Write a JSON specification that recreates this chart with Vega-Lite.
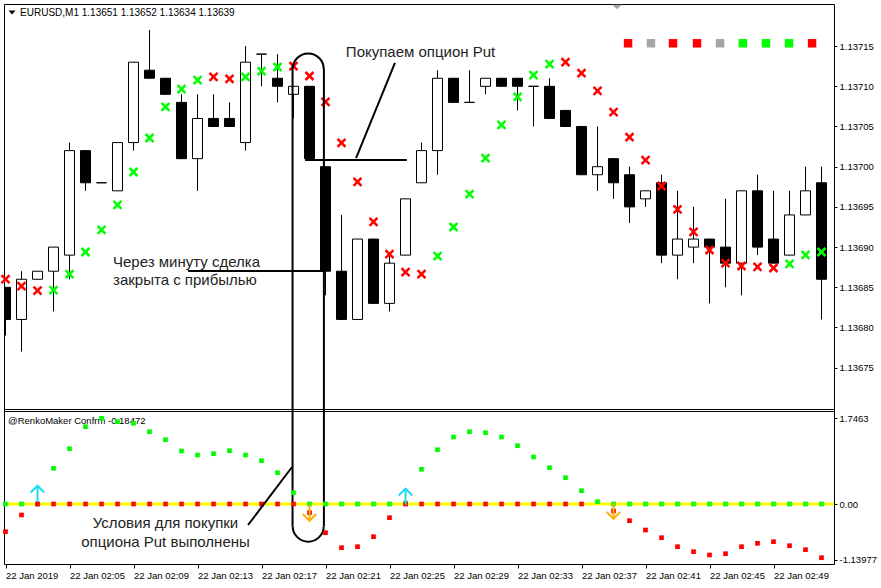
{
"$schema":"https://vega.github.io/schema/vega-lite/v6.json",
"width":830,"height":560,
"autosize":{"type":"none"},
"padding":{"left":4,"top":4,"right":47,"bottom":24},
"background":"#ffffff",
"config":{"view":{"stroke":"#000000","strokeWidth":1},"axis":{"grid":false,"domain":false,"labelFont":"Liberation Sans","labelFontSize":9.5,"labelColor":"#000000","tickColor":"#000000","tickWidth":1}},
"datasets":{
"candles":[
{"m":1,"o":1.13685,"h":1.13685,"l":1.13679,"c":1.13681,"dir":"bear"},
{"m":2,"o":1.13681,"h":1.13687,"l":1.13677,"c":1.13686,"dir":"bull"},
{"m":3,"o":1.13686,"h":1.13687,"l":1.13686,"c":1.13687,"dir":"bull"},
{"m":4,"o":1.13687,"h":1.13690,"l":1.13682,"c":1.13690,"dir":"bull"},
{"m":5,"o":1.13689,"h":1.13703,"l":1.13686,"c":1.13702,"dir":"bull"},
{"m":6,"o":1.13702,"h":1.13702,"l":1.13697,"c":1.13698,"dir":"bear"},
{"m":7,"o":1.13698,"h":1.13698,"l":1.13698,"c":1.13698,"dir":"bear"},
{"m":8,"o":1.13697,"h":1.13703,"l":1.13697,"c":1.13703,"dir":"bull"},
{"m":9,"o":1.13703,"h":1.13713,"l":1.13702,"c":1.13713,"dir":"bull"},
{"m":10,"o":1.13712,"h":1.13717,"l":1.13711,"c":1.13711,"dir":"bear"},
{"m":11,"o":1.13711,"h":1.13711,"l":1.13709,"c":1.13709,"dir":"bear"},
{"m":12,"o":1.13708,"h":1.13709,"l":1.13701,"c":1.13701,"dir":"bear"},
{"m":13,"o":1.13701,"h":1.13709,"l":1.13697,"c":1.13706,"dir":"bull"},
{"m":14,"o":1.13706,"h":1.13709,"l":1.13705,"c":1.13705,"dir":"bear"},
{"m":15,"o":1.13706,"h":1.13708,"l":1.13705,"c":1.13705,"dir":"bear"},
{"m":16,"o":1.13703,"h":1.13715,"l":1.13702,"c":1.13713,"dir":"bull"},
{"m":17,"o":1.13714,"h":1.13714,"l":1.13710,"c":1.13714,"dir":"bear"},
{"m":18,"o":1.13711,"h":1.13714,"l":1.13708,"c":1.13710,"dir":"bear"},
{"m":19,"o":1.13709,"h":1.13710,"l":1.13706,"c":1.13710,"dir":"bull"},
{"m":20,"o":1.13710,"h":1.13710,"l":1.13701,"c":1.13701,"dir":"bear"},
{"m":21,"o":1.13700,"h":1.13700,"l":1.13684,"c":1.13687,"dir":"bear"},
{"m":22,"o":1.13687,"h":1.13694,"l":1.13681,"c":1.13681,"dir":"bear"},
{"m":23,"o":1.13681,"h":1.13691,"l":1.13681,"c":1.13691,"dir":"bull"},
{"m":24,"o":1.13691,"h":1.13691,"l":1.13683,"c":1.13683,"dir":"bear"},
{"m":25,"o":1.13683,"h":1.13689,"l":1.13682,"c":1.13688,"dir":"bull"},
{"m":26,"o":1.13689,"h":1.13696,"l":1.13689,"c":1.13696,"dir":"bull"},
{"m":27,"o":1.13698,"h":1.13703,"l":1.13698,"c":1.13702,"dir":"bull"},
{"m":28,"o":1.13702,"h":1.13712,"l":1.13699,"c":1.13711,"dir":"bull"},
{"m":29,"o":1.13711,"h":1.13711,"l":1.13708,"c":1.13708,"dir":"bear"},
{"m":30,"o":1.13708,"h":1.13712,"l":1.13708,"c":1.13708,"dir":"bear"},
{"m":31,"o":1.13710,"h":1.13711,"l":1.13709,"c":1.13711,"dir":"bull"},
{"m":32,"o":1.13711,"h":1.13711,"l":1.13710,"c":1.13710,"dir":"bear"},
{"m":33,"o":1.13711,"h":1.13711,"l":1.13707,"c":1.13710,"dir":"bear"},
{"m":34,"o":1.13710,"h":1.13710,"l":1.13705,"c":1.13710,"dir":"bear"},
{"m":35,"o":1.13710,"h":1.13711,"l":1.13706,"c":1.13706,"dir":"bear"},
{"m":36,"o":1.13707,"h":1.13707,"l":1.13705,"c":1.13705,"dir":"bear"},
{"m":37,"o":1.13705,"h":1.13705,"l":1.13699,"c":1.13699,"dir":"bear"},
{"m":38,"o":1.13699,"h":1.13705,"l":1.13697,"c":1.13700,"dir":"bull"},
{"m":39,"o":1.13701,"h":1.13701,"l":1.13696,"c":1.13698,"dir":"bear"},
{"m":40,"o":1.13699,"h":1.13700,"l":1.13693,"c":1.13695,"dir":"bear"},
{"m":41,"o":1.13696,"h":1.13697,"l":1.13695,"c":1.13697,"dir":"bull"},
{"m":42,"o":1.13698,"h":1.13699,"l":1.13688,"c":1.13689,"dir":"bear"},
{"m":43,"o":1.13689,"h":1.13697,"l":1.13686,"c":1.13691,"dir":"bull"},
{"m":44,"o":1.13690,"h":1.13695,"l":1.13688,"c":1.13691,"dir":"bull"},
{"m":45,"o":1.13691,"h":1.13691,"l":1.13683,"c":1.13690,"dir":"bear"},
{"m":46,"o":1.13690,"h":1.13696,"l":1.13685,"c":1.13688,"dir":"bear"},
{"m":47,"o":1.13688,"h":1.13697,"l":1.13684,"c":1.13697,"dir":"bull"},
{"m":48,"o":1.13697,"h":1.13699,"l":1.13689,"c":1.13690,"dir":"bear"},
{"m":49,"o":1.13691,"h":1.13697,"l":1.13688,"c":1.13688,"dir":"bear"},
{"m":50,"o":1.13689,"h":1.13697,"l":1.13689,"c":1.13694,"dir":"bull"},
{"m":51,"o":1.13694,"h":1.13700,"l":1.13694,"c":1.13697,"dir":"bull"},
{"m":52,"o":1.13698,"h":1.13700,"l":1.13681,"c":1.13686,"dir":"bear"}
],
"xmarks":[
{"m":1,"p":1.1368603,"side":"sell"},{"m":2,"p":1.1368516,"side":"sell"},{"m":3,"p":1.1368458,"side":"sell"},
{"m":4,"p":1.1368466,"side":"buy"},{"m":5,"p":1.1368665,"side":"buy"},{"m":6,"p":1.1368939,"side":"buy"},
{"m":7,"p":1.1369213,"side":"buy"},{"m":8,"p":1.1369524,"side":"buy"},{"m":9,"p":1.1369934,"side":"buy"},
{"m":10,"p":1.1370357,"side":"buy"},{"m":11,"p":1.1370743,"side":"buy"},{"m":12,"p":1.1370966,"side":"buy"},
{"m":13,"p":1.1371078,"side":"buy"},{"m":14,"p":1.1371116,"side":"sell"},{"m":15,"p":1.1371091,"side":"sell"},
{"m":16,"p":1.1371116,"side":"buy"},{"m":17,"p":1.137119,"side":"buy"},{"m":18,"p":1.137124,"side":"buy"},
{"m":19,"p":1.1371252,"side":"sell"},{"m":20,"p":1.1371128,"side":"sell"},{"m":21,"p":1.1370805,"side":"sell"},
{"m":22,"p":1.1370295,"side":"sell"},{"m":23,"p":1.136981,"side":"sell"},{"m":24,"p":1.1369314,"side":"sell"},
{"m":25,"p":1.1368914,"side":"sell"},{"m":26,"p":1.136869,"side":"sell"},{"m":27,"p":1.1368665,"side":"sell"},
{"m":28,"p":1.1368889,"side":"buy"},{"m":29,"p":1.136925,"side":"buy"},{"m":30,"p":1.136966,"side":"buy"},
{"m":31,"p":1.1370108,"side":"buy"},{"m":32,"p":1.1370519,"side":"buy"},{"m":33,"p":1.1370867,"side":"buy"},
{"m":34,"p":1.137114,"side":"buy"},{"m":35,"p":1.1371277,"side":"buy"},{"m":36,"p":1.1371302,"side":"sell"},
{"m":37,"p":1.1371165,"side":"sell"},{"m":38,"p":1.1370942,"side":"sell"},{"m":39,"p":1.137068,"side":"sell"},
{"m":40,"p":1.1370369,"side":"sell"},{"m":41,"p":1.1370083,"side":"sell"},{"m":42,"p":1.136976,"side":"sell"},
{"m":43,"p":1.1369468,"side":"sell"},{"m":44,"p":1.1369188,"side":"sell"},{"m":45,"p":1.1368964,"side":"sell"},
{"m":46,"p":1.1368802,"side":"sell"},{"m":47,"p":1.1368765,"side":"sell"},{"m":48,"p":1.1368753,"side":"sell"},
{"m":49,"p":1.136874,"side":"sell"},{"m":50,"p":1.136879,"side":"buy"},{"m":51,"p":1.1368902,"side":"buy"},
{"m":52,"p":1.1368939,"side":"buy"}
],
"osc":[
{"m":1,"v":0,"s":"buy"},{"m":2,"v":0,"s":"buy"},{"m":3,"v":0,"s":"buy"},{"m":4,"v":0.727,"s":"buy"},
{"m":5,"v":1.127,"s":"buy"},{"m":6,"v":1.575,"s":"buy"},{"m":7,"v":1.746,"s":"buy"},{"m":8,"v":1.677,"s":"buy"},
{"m":9,"v":1.644,"s":"buy"},{"m":10,"v":1.473,"s":"buy"},{"m":11,"v":1.31,"s":"buy"},{"m":12,"v":1.08,"s":"buy"},
{"m":13,"v":0.998,"s":"buy"},{"m":14,"v":1.025,"s":"buy"},{"m":15,"v":1.086,"s":"buy"},{"m":16,"v":0.998,"s":"buy"},
{"m":17,"v":0.882,"s":"buy"},{"m":18,"v":0.638,"s":"buy"},{"m":19,"v":0.23,"s":"buy"},{"m":20,"v":0,"s":"buy"},
{"m":21,"v":0,"s":"buy"},{"m":22,"v":0,"s":"buy"},{"m":23,"v":0,"s":"buy"},{"m":24,"v":0,"s":"buy"},
{"m":25,"v":0,"s":"buy"},{"m":26,"v":0.02,"s":"buy"},{"m":27,"v":0.707,"s":"buy"},{"m":28,"v":1.106,"s":"buy"},
{"m":29,"v":1.365,"s":"buy"},{"m":30,"v":1.473,"s":"buy"},{"m":31,"v":1.453,"s":"buy"},{"m":32,"v":1.365,"s":"buy"},
{"m":33,"v":1.188,"s":"buy"},{"m":34,"v":0.958,"s":"buy"},{"m":35,"v":0.74,"s":"buy"},{"m":36,"v":0.536,"s":"buy"},
{"m":37,"v":0.271,"s":"buy"},{"m":38,"v":0.047,"s":"buy"},{"m":39,"v":0,"s":"buy"},{"m":40,"v":0,"s":"buy"},
{"m":41,"v":0,"s":"buy"},{"m":42,"v":0,"s":"buy"},{"m":43,"v":0,"s":"buy"},{"m":44,"v":0,"s":"buy"},
{"m":45,"v":0,"s":"buy"},{"m":46,"v":0,"s":"buy"},{"m":47,"v":0,"s":"buy"},{"m":48,"v":0,"s":"buy"},
{"m":49,"v":0,"s":"buy"},{"m":50,"v":0,"s":"buy"},{"m":51,"v":0,"s":"buy"},{"m":52,"v":0,"s":"buy"},
{"m":1,"v":-0.564,"s":"sell"},{"m":2,"v":-0.224,"s":"sell"},{"m":3,"v":0,"s":"sell"},{"m":4,"v":0,"s":"sell"},
{"m":5,"v":0,"s":"sell"},{"m":6,"v":0,"s":"sell"},{"m":7,"v":0,"s":"sell"},{"m":8,"v":0,"s":"sell"},
{"m":9,"v":0,"s":"sell"},{"m":10,"v":0,"s":"sell"},{"m":11,"v":0,"s":"sell"},{"m":12,"v":0,"s":"sell"},
{"m":13,"v":0,"s":"sell"},{"m":14,"v":0,"s":"sell"},{"m":15,"v":0,"s":"sell"},{"m":16,"v":0,"s":"sell"},
{"m":17,"v":0,"s":"sell"},{"m":18,"v":0,"s":"sell"},{"m":19,"v":0,"s":"sell"},{"m":20,"v":-0.177,"s":"sell"},
{"m":21,"v":-0.585,"s":"sell"},{"m":22,"v":-0.89,"s":"sell"},{"m":23,"v":-0.87,"s":"sell"},{"m":24,"v":-0.666,"s":"sell"},
{"m":25,"v":-0.279,"s":"sell"},{"m":26,"v":0,"s":"sell"},{"m":27,"v":0,"s":"sell"},{"m":28,"v":0,"s":"sell"},
{"m":29,"v":0,"s":"sell"},{"m":30,"v":0,"s":"sell"},{"m":31,"v":0,"s":"sell"},{"m":32,"v":0,"s":"sell"},
{"m":33,"v":0,"s":"sell"},{"m":34,"v":0,"s":"sell"},{"m":35,"v":0,"s":"sell"},{"m":36,"v":0,"s":"sell"},
{"m":37,"v":0,"s":"sell"},{"m":39,"v":-0.143,"s":"sell"},{"m":40,"v":-0.34,"s":"sell"},{"m":41,"v":-0.53,"s":"sell"},
{"m":42,"v":-0.687,"s":"sell"},{"m":43,"v":-0.87,"s":"sell"},{"m":44,"v":-0.972,"s":"sell"},{"m":45,"v":-1.039,"s":"sell"},
{"m":46,"v":-1.013,"s":"sell"},{"m":47,"v":-0.87,"s":"sell"},{"m":48,"v":-0.801,"s":"sell"},{"m":49,"v":-0.768,"s":"sell"},
{"m":50,"v":-0.85,"s":"sell"},{"m":51,"v":-0.931,"s":"sell"},{"m":52,"v":-1.094,"s":"sell"}
],
"arrows":[
{"m":3,"v":0.21,"dir":"up"},{"m":26,"v":0.15,"dir":"up"},{"m":20,"v":-0.18,"dir":"down"},{"m":39,"v":-0.14,"dir":"down"}
],
"signals":[
{"m":39.91,"p":1.1371535,"sig":"sell"},{"m":41.34,"p":1.1371535,"sig":"flat"},{"m":42.72,"p":1.1371535,"sig":"sell"},
{"m":44.22,"p":1.1371535,"sig":"sell"},{"m":45.66,"p":1.1371535,"sig":"flat"},{"m":47.09,"p":1.1371535,"sig":"buy"},
{"m":48.53,"p":1.1371535,"sig":"buy"},{"m":49.97,"p":1.1371535,"sig":"buy"},{"m":51.41,"p":1.1371535,"sig":"sell"}
],
"linesTop":[
{"m":25.34,"m2":22.91,"p":1.137129,"p2":1.1370108},
{"m":19.72,"m2":26.09,"p":1.1370083,"p2":1.1370083},
{"m":12.41,"m2":20.97,"p":1.1368703,"p2":1.1368703},
{"m":18.94,"m2":18.94,"p":1.1371215,"p2":1.1365529},
{"m":20.9,"m2":20.9,"p":1.1371215,"p2":1.1365529}
],
"arcs":[{"m":19.92,"p":1.1371215,"k":"top"},{"m":19.92,"p":1.1365529,"k":"bottom"}]
},
"encoding":{"x":{"field":"m","type":"quantitative","title":null,"scale":{"domain":[0.90625,52.78125],"nice":false,"zero":false,"padding":0},
 "axis":{"orient":"bottom","title":null,"values":[1,5,9,13,17,21,25,29,33,37,41,45,49],
 "labelExpr":"datum.value == 1 ? '22 Jan 2019' : '22 Jan 02:' + (datum.value < 10 ? '0' : '') + datum.value",
 "labelAlign":"left","labelBaseline":"top","tickSize":4,"labelPadding":2,"domain":false,"grid":false,"labelOverlap":false,"labelFlush":false,"labelBound":false}}},
"layer":[
{"layer":[
 {"data":{"name":"candles"},"mark":{"type":"rule","color":"#000000","strokeWidth":1,"clip":true},
  "encoding":{"y":{"field":"h","type":"quantitative","title":null,"scale":{"domain":[1.13669863,1.13720236],"range":[405,0],"nice":false,"zero":false,"padding":0},
   "axis":{"orient":"right","title":null,"values":[1.13675,1.1368,1.13685,1.1369,1.13695,1.137,1.13705,1.1371,1.13715],"format":".5f","tickSize":3,"labelPadding":2,"labelBaseline":"middle","labelAlign":"left"}},
   "y2":{"field":"l"}}},
 {"data":{"name":"candles"},"mark":{"type":"bar","size":10,"stroke":"#000000","strokeWidth":1,"clip":true},
  "encoding":{"y":{"field":"o","type":"quantitative","title":null,"scale":{"domain":[1.13669863,1.13720236],"range":[405,0],"nice":false,"zero":false,"padding":0},
   "axis":{"orient":"right","title":null,"values":[1.13675,1.1368,1.13685,1.1369,1.13695,1.137,1.13705,1.1371,1.13715],"format":".5f","tickSize":3,"labelPadding":2,"labelBaseline":"middle","labelAlign":"left"}},
   "y2":{"field":"c"},
   "fill":{"field":"dir","type":"nominal","legend":null,"scale":{"domain":["bull","bear","buy","sell","flat"],"range":["#FFFFFF","#000000","#00FF00","#FF0000","#A5A5A5"]}}}},
 {"data":{"values":[{"m":0.90625,"m2":52.78125,"p":1.13669801}]},"mark":{"type":"rule","color":"#000000","strokeWidth":1},
  "encoding":{"x2":{"field":"m2"},"y":{"field":"p","type":"quantitative","title":null,"scale":{"domain":[1.13669863,1.13720236],"range":[405,0],"nice":false,"zero":false,"padding":0},
   "axis":{"orient":"right","title":null,"values":[1.13675,1.1368,1.13685,1.1369,1.13695,1.137,1.13705,1.1371,1.13715],"format":".5f","tickSize":3,"labelPadding":2,"labelBaseline":"middle","labelAlign":"left"}}}},
 {"data":{"name":"xmarks"},"mark":{"type":"point","shape":"M-1,-1L1,1M1,-1L-1,1","size":64,"strokeWidth":2.5,"filled":false,"opacity":1},
  "encoding":{"y":{"field":"p","type":"quantitative","title":null,"scale":{"domain":[1.13669863,1.13720236],"range":[405,0],"nice":false,"zero":false,"padding":0},
   "axis":{"orient":"right","title":null,"values":[1.13675,1.1368,1.13685,1.1369,1.13695,1.137,1.13705,1.1371,1.13715],"format":".5f","tickSize":3,"labelPadding":2,"labelBaseline":"middle","labelAlign":"left"}},
   "stroke":{"field":"side","type":"nominal","legend":null,"scale":{"domain":["buy","sell","up","down"],"range":["#00FF00","#FF0000","#19DDF2","#FFB000"]}}}},
 {"data":{"name":"signals"},"mark":{"type":"square","size":72,"opacity":1},
  "encoding":{"y":{"field":"p","type":"quantitative","title":null,"scale":{"domain":[1.13669863,1.13720236],"range":[405,0],"nice":false,"zero":false,"padding":0},
   "axis":{"orient":"right","title":null,"values":[1.13675,1.1368,1.13685,1.1369,1.13695,1.137,1.13705,1.1371,1.13715],"format":".5f","tickSize":3,"labelPadding":2,"labelBaseline":"middle","labelAlign":"left"}},
   "fill":{"field":"sig","type":"nominal","legend":null,"scale":{"domain":["bull","bear","buy","sell","flat"],"range":["#FFFFFF","#000000","#00FF00","#FF0000","#A5A5A5"]}}}},
 {"data":{"values":[{"m":1.41,"p":1.1371918}]},"mark":{"type":"point","shape":"M-1,-0.55L1,-0.55L0,0.55Z","size":49,"filled":true,"color":"#000000","opacity":1},
  "encoding":{"y":{"field":"p","type":"quantitative","title":null,"scale":{"domain":[1.13669863,1.13720236],"range":[405,0],"nice":false,"zero":false,"padding":0},
   "axis":{"orient":"right","title":null,"values":[1.13675,1.1368,1.13685,1.1369,1.13695,1.137,1.13705,1.1371,1.13715],"format":".5f","tickSize":3,"labelPadding":2,"labelBaseline":"middle","labelAlign":"left"}}}},
 {"data":{"values":[{"m":39.22,"p":1.1371986}]},"mark":{"type":"point","shape":"M-1,-0.45L1,-0.45L0,0.45Z","size":100,"filled":true,"color":"#A8A8A8","opacity":1},
  "encoding":{"y":{"field":"p","type":"quantitative","title":null,"scale":{"domain":[1.13669863,1.13720236],"range":[405,0],"nice":false,"zero":false,"padding":0},
   "axis":{"orient":"right","title":null,"values":[1.13675,1.1368,1.13685,1.1369,1.13695,1.137,1.13705,1.1371,1.13715],"format":".5f","tickSize":3,"labelPadding":2,"labelBaseline":"middle","labelAlign":"left"}}}},
 {"data":{"values":[{"m":1.91,"p":1.1371912,"t":"EURUSD,M1  1.13651 1.13652 1.13634 1.13639"}]},"mark":{"type":"text","align":"left","baseline":"middle","font":"Liberation Sans","fontSize":10,"color":"#000000"},
  "encoding":{"y":{"field":"p","type":"quantitative","title":null,"scale":{"domain":[1.13669863,1.13720236],"range":[405,0],"nice":false,"zero":false,"padding":0},
   "axis":{"orient":"right","title":null,"values":[1.13675,1.1368,1.13685,1.1369,1.13695,1.137,1.13705,1.1371,1.13715],"format":".5f","tickSize":3,"labelPadding":2,"labelBaseline":"middle","labelAlign":"left"}},"text":{"field":"t"}}},
 {"data":{"name":"linesTop"},"mark":{"type":"rule","color":"#000000","strokeWidth":2},
  "encoding":{"x2":{"field":"m2"},"y":{"field":"p","type":"quantitative","title":null,"scale":{"domain":[1.13669863,1.13720236],"range":[405,0],"nice":false,"zero":false,"padding":0},
   "axis":{"orient":"right","title":null,"values":[1.13675,1.1368,1.13685,1.1369,1.13695,1.137,1.13705,1.1371,1.13715],"format":".5f","tickSize":3,"labelPadding":2,"labelBaseline":"middle","labelAlign":"left"}},"y2":{"field":"p2"}}},
 {"data":{"name":"arcs"},"mark":{"type":"point","size":961,"strokeWidth":2,"filled":false,"color":"#000000","opacity":1},
  "encoding":{"y":{"field":"p","type":"quantitative","title":null,"scale":{"domain":[1.13669863,1.13720236],"range":[405,0],"nice":false,"zero":false,"padding":0},
   "axis":{"orient":"right","title":null,"values":[1.13675,1.1368,1.13685,1.1369,1.13695,1.137,1.13705,1.1371,1.13715],"format":".5f","tickSize":3,"labelPadding":2,"labelBaseline":"middle","labelAlign":"left"}},
   "shape":{"field":"k","type":"nominal","legend":null,"scale":{"domain":["top","bottom","up","down"],"range":["M-1,0A1,1 0 0 1 1,0","M-1,0A1,1 0 0 0 1,0","M0,1L0,-1M-0.85,-0.15L0,-1L0.85,-0.15","M0,-1L0,1M-0.85,0.15L0,1L0.85,0.15"]}}}},
 {"data":{"values":[{"m":26.94,"p":1.1371427,"t":"Покупаем опцион Put"}]},"mark":{"type":"text","align":"center","baseline":"middle","font":"Liberation Sans","fontSize":15,"color":"#222222"},
  "encoding":{"y":{"field":"p","type":"quantitative","title":null,"scale":{"domain":[1.13669863,1.13720236],"range":[405,0],"nice":false,"zero":false,"padding":0},
   "axis":{"orient":"right","title":null,"values":[1.13675,1.1368,1.13685,1.1369,1.13695,1.137,1.13705,1.1371,1.13715],"format":".5f","tickSize":3,"labelPadding":2,"labelBaseline":"middle","labelAlign":"left"}},"text":{"field":"t"}}},
 {"data":{"values":[{"m":7.72,"p":1.1368815,"t":"Через минуту сделка"},{"m":7.72,"p":1.1368591,"t":"закрыта с прибылью"}]},"mark":{"type":"text","align":"left","baseline":"middle","font":"Liberation Sans","fontSize":15,"color":"#222222"},
  "encoding":{"y":{"field":"p","type":"quantitative","title":null,"scale":{"domain":[1.13669863,1.13720236],"range":[405,0],"nice":false,"zero":false,"padding":0},
   "axis":{"orient":"right","title":null,"values":[1.13675,1.1368,1.13685,1.1369,1.13695,1.137,1.13705,1.1371,1.13715],"format":".5f","tickSize":3,"labelPadding":2,"labelBaseline":"middle","labelAlign":"left"}},"text":{"field":"t"}}}
]},
{"layer":[
 {"data":{"values":[{"m":0.90625,"m2":52.78125,"v":1.88468}]},"mark":{"type":"rule","color":"#000000","strokeWidth":1},
  "encoding":{"x2":{"field":"m2"},"y":{"field":"v","type":"quantitative","title":null,"scale":{"domain":[-1.22249,1.89487],"range":[560,407],"nice":false,"zero":false,"padding":0},
   "axis":{"orient":"right","title":null,"values":[-1.13977,0,1.7463],"labelExpr":"datum.value > 1 ? '1.7463' : (datum.value < -1 ? '-1.13977' : '0.00')","tickSize":3,"labelPadding":2,"labelBaseline":"middle","labelAlign":"left"}}}},
 {"data":{"values":[{"m":0.90625,"m2":52.78125,"v":0}]},"mark":{"type":"rule","color":"#FFFF00","strokeWidth":3},
  "encoding":{"x2":{"field":"m2"},"y":{"field":"v","type":"quantitative","title":null,"scale":{"domain":[-1.22249,1.89487],"range":[560,407],"nice":false,"zero":false,"padding":0},
   "axis":{"orient":"right","title":null,"values":[-1.13977,0,1.7463],"labelExpr":"datum.value > 1 ? '1.7463' : (datum.value < -1 ? '-1.13977' : '0.00')","tickSize":3,"labelPadding":2,"labelBaseline":"middle","labelAlign":"left"}}}},
 {"data":{"values":[{"m":1.16,"v":1.697,"t":"@RenkoMaker Confrm -0.18472"}]},"mark":{"type":"text","align":"left","baseline":"middle","font":"Liberation Sans","fontSize":9.5,"color":"#000000"},
  "encoding":{"y":{"field":"v","type":"quantitative","title":null,"scale":{"domain":[-1.22249,1.89487],"range":[560,407],"nice":false,"zero":false,"padding":0},
   "axis":{"orient":"right","title":null,"values":[-1.13977,0,1.7463],"labelExpr":"datum.value > 1 ? '1.7463' : (datum.value < -1 ? '-1.13977' : '0.00')","tickSize":3,"labelPadding":2,"labelBaseline":"middle","labelAlign":"left"}},"text":{"field":"t"}}},
 {"data":{"name":"osc"},"mark":{"type":"square","size":22,"opacity":1},
  "encoding":{"y":{"field":"v","type":"quantitative","title":null,"scale":{"domain":[-1.22249,1.89487],"range":[560,407],"nice":false,"zero":false,"padding":0},
   "axis":{"orient":"right","title":null,"values":[-1.13977,0,1.7463],"labelExpr":"datum.value > 1 ? '1.7463' : (datum.value < -1 ? '-1.13977' : '0.00')","tickSize":3,"labelPadding":2,"labelBaseline":"middle","labelAlign":"left"}},
   "fill":{"field":"s","type":"nominal","legend":null,"scale":{"domain":["bull","bear","buy","sell","flat"],"range":["#FFFFFF","#000000","#00FF00","#FF0000","#A5A5A5"]}}}},
 {"data":{"name":"arrows"},"mark":{"type":"point","size":256,"strokeWidth":2,"filled":false,"opacity":1},
  "encoding":{"y":{"field":"v","type":"quantitative","title":null,"scale":{"domain":[-1.22249,1.89487],"range":[560,407],"nice":false,"zero":false,"padding":0},
   "axis":{"orient":"right","title":null,"values":[-1.13977,0,1.7463],"labelExpr":"datum.value > 1 ? '1.7463' : (datum.value < -1 ? '-1.13977' : '0.00')","tickSize":3,"labelPadding":2,"labelBaseline":"middle","labelAlign":"left"}},
   "shape":{"field":"dir","type":"nominal","legend":null,"scale":{"domain":["top","bottom","up","down"],"range":["M-1,0A1,1 0 0 1 1,0","M-1,0A1,1 0 0 0 1,0","M0,1L0,-1M-0.85,-0.15L0,-1L0.85,-0.15","M0,-1L0,1M-0.85,0.15L0,1L0.85,0.15"]}},
   "stroke":{"field":"dir","type":"nominal","legend":null,"scale":{"domain":["buy","sell","up","down"],"range":["#00FF00","#FF0000","#19DDF2","#FFB000"]}}}},
 {"data":{"values":[{"m":16.16,"m2":18.91,"v":-0.428,"v2":0.754}]},"mark":{"type":"rule","color":"#000000","strokeWidth":2},
  "encoding":{"x2":{"field":"m2"},"y":{"field":"v","type":"quantitative","title":null,"scale":{"domain":[-1.22249,1.89487],"range":[560,407],"nice":false,"zero":false,"padding":0},
   "axis":{"orient":"right","title":null,"values":[-1.13977,0,1.7463],"labelExpr":"datum.value > 1 ? '1.7463' : (datum.value < -1 ? '-1.13977' : '0.00')","tickSize":3,"labelPadding":2,"labelBaseline":"middle","labelAlign":"left"}},"y2":{"field":"v2"}}},
 {"data":{"values":[{"m":11.0,"v":-0.387,"t":"Условия для покупки"},{"m":11.0,"v":-0.774,"t":"опциона Put выполнены"}]},"mark":{"type":"text","align":"center","baseline":"middle","font":"Liberation Sans","fontSize":15,"color":"#222222"},
  "encoding":{"y":{"field":"v","type":"quantitative","title":null,"scale":{"domain":[-1.22249,1.89487],"range":[560,407],"nice":false,"zero":false,"padding":0},
   "axis":{"orient":"right","title":null,"values":[-1.13977,0,1.7463],"labelExpr":"datum.value > 1 ? '1.7463' : (datum.value < -1 ? '-1.13977' : '0.00')","tickSize":3,"labelPadding":2,"labelBaseline":"middle","labelAlign":"left"}},"text":{"field":"t"}}}
]}
],
"resolve":{"scale":{"y":"independent"},"axis":{"y":"independent"}}
}
